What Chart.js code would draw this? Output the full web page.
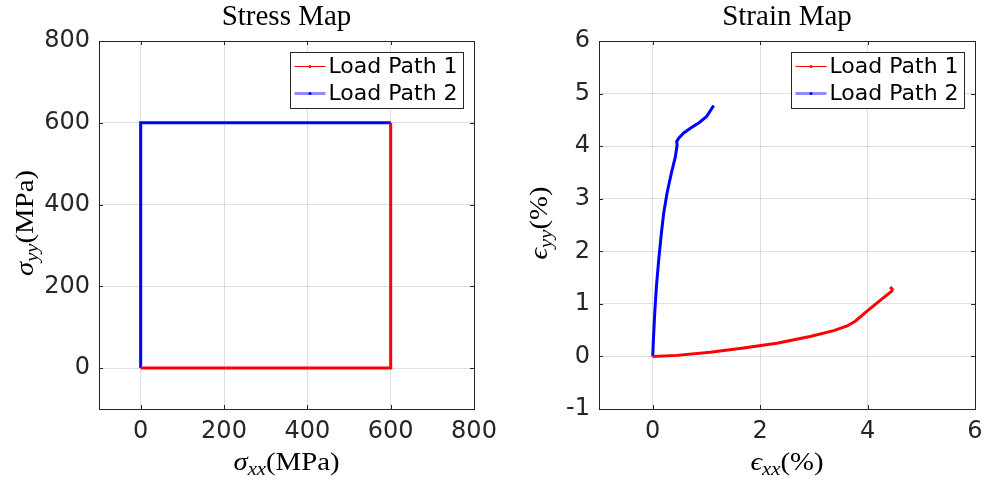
<!DOCTYPE html>
<html>
<head>
<meta charset="utf-8">
<title>Stress / Strain Map</title>
<script src="https://cdn.jsdelivr.net/npm/chart.js@4.4.1/dist/chart.umd.min.js"></script>
<style>
  body { margin: 0; background: #fff; width: 986px; height: 485px; overflow: hidden; position: relative; }
  .panel { position: absolute; top: 0; height: 485px; }
</style>
</head>
<body>
<div class="panel" style="left:493px;width:493px"><canvas id="strainChart" width="493" height="485"></canvas></div>
<div class="panel" style="left:0;width:530px"><canvas id="stressChart" width="530" height="485"></canvas></div>
<script>
// Series names
var seriesLabels = ["Load Path 1", "Load Path 2"];

// Stress paths (MPa)
var stressPath1X = [0, 600, 600];
var stressPath1Y = [0, 0, 600];
var stressPath2X = [0, 0, 600];
var stressPath2Y = [0, 600, 600];

// Strain paths (%)
var strainPath1X = [0, 0.45, 1.07, 1.69, 2.31, 2.93, 3.37, 3.62, 3.77, 3.99, 4.24, 4.45, 4.46, 4.42];
var strainPath1Y = [0, 0.02, 0.08, 0.16, 0.25, 0.38, 0.49, 0.58, 0.67, 0.86, 1.07, 1.24, 1.28, 1.32];
var strainPath2X = [0, 0.013, 0.037, 0.069, 0.112, 0.162, 0.205, 0.267, 0.348, 0.422, 0.454, 0.448, 0.484, 0.577, 0.70, 0.869, 0.999, 1.135];
var strainPath2Y = [0, 0.32, 0.82, 1.33, 1.84, 2.35, 2.73, 3.11, 3.49, 3.80, 4.02, 4.09, 4.15, 4.25, 4.34, 4.45, 4.56, 4.77];

// Tick values
var stressTicks = [0, 200, 400, 600, 800];
var strainXTicks = [0, 2, 4, 6];
var strainYTicks = [-1, 0, 1, 2, 3, 4, 5, 6];

var pathColors = ["#ff0000", "#0000ff"];
var legendLineColors = ["#ff0000", "rgba(0,0,255,0.45)"];
var legendLineWidths = [1, 3];

var axisColor = "#262626";
var gridColor = "rgba(38,38,38,0.15)";
var sansFont = "DejaVu Sans";
var serifFont = '"Liberation Serif", "DejaVu Serif", serif';

function toPoints(xs, ys) {
  return xs.map(function (x, i) {
    return { x: x, y: ys[i] };
  });
}

function fixTicks(values) {
  return function (scale) {
    scale.ticks = values.map(function (v) {
      return { value: v };
    });
  };
}

// keep the plot box at a fixed place regardless of label widths
function fixSize(size) {
  return function (scale) {
    if (scale.isHorizontal()) scale.height = size;
    else scale.width = size;
    scale.paddingLeft = 0;
    scale.paddingRight = 0;
    scale.paddingTop = 0;
    scale.paddingBottom = 0;
  };
}

// text with an italic symbol and a subscript, LaTeX style (slightly widened)
function drawMathText(ctx, parts, cx, baseY, angle) {
  var stretch = 1.15;
  ctx.save();
  ctx.translate(cx, baseY);
  ctx.rotate(angle);
  ctx.scale(stretch, 1);
  var total = 0;
  parts.forEach(function (p) {
    ctx.font = (p.italic ? "italic " : "") + (p.sub ? 18 : 25) + "px " + serifFont;
    p.w = ctx.measureText(p.text).width;
    total += p.w;
  });
  var x = -total / 2;
  ctx.fillStyle = "#000";
  ctx.textAlign = "left";
  ctx.textBaseline = "alphabetic";
  parts.forEach(function (p) {
    ctx.font = (p.italic ? "italic " : "") + (p.sub ? 18 : 25) + "px " + serifFont;
    ctx.fillText(p.text, x, p.sub ? 5 : 0);
    x += p.w;
  });
  ctx.restore();
}

// box, inward ticks, title, axis labels and boxed legend
var matlabAxes = {
  id: "matlabAxes",
  afterDraw: function (chart, args, opts) {
    var ctx = chart.ctx;
    var area = chart.chartArea;
    var xs = chart.scales.x;
    var ys = chart.scales.y;
    ctx.save();

    // inward tick marks on all four sides
    ctx.strokeStyle = axisColor;
    ctx.lineWidth = 1;
    ctx.beginPath();
    xs.ticks.forEach(function (t) {
      var px = Math.round(xs.getPixelForValue(t.value)) + 0.5;
      ctx.moveTo(px, area.bottom);
      ctx.lineTo(px, area.bottom - 4);
      ctx.moveTo(px, area.top);
      ctx.lineTo(px, area.top + 4);
    });
    ys.ticks.forEach(function (t) {
      var py = Math.round(ys.getPixelForValue(t.value)) + 0.5;
      ctx.moveTo(area.left, py);
      ctx.lineTo(area.left + 4, py);
      ctx.moveTo(area.right, py);
      ctx.lineTo(area.right - 4, py);
    });
    ctx.stroke();
    ctx.strokeRect(Math.round(area.left) + 0.5, Math.round(area.top) + 0.5,
      Math.round(area.right - area.left), Math.round(area.bottom - area.top));

    // title
    ctx.fillStyle = "#000";
    ctx.font = "29px " + serifFont;
    ctx.textAlign = "center";
    ctx.textBaseline = "alphabetic";
    ctx.fillText(opts.title, (area.left + area.right) / 2, 25);

    // axis labels
    drawMathText(ctx, opts.xLabel, (area.left + area.right) / 2, 470, 0);
    drawMathText(ctx, opts.yLabel, opts.yLabelX, 223, -Math.PI / 2);

    // legend
    var bw = 173, bh = 56;
    var bx = Math.round(area.right) - 11 - bw + 0.5;
    var by = Math.round(area.top) + 11 + 0.5;
    ctx.fillStyle = "#fff";
    ctx.fillRect(bx, by, bw, bh);
    ctx.strokeStyle = axisColor;
    ctx.lineWidth = 1;
    ctx.strokeRect(bx, by, bw, bh);
    ctx.font = "22px " + sansFont;
    ctx.textAlign = "left";
    ctx.textBaseline = "middle";
    chart.data.datasets.forEach(function (ds, i) {
      var ry = by + 14 + i * 27;
      ctx.strokeStyle = legendLineColors[i];
      ctx.lineWidth = legendLineWidths[i];
      ctx.beginPath();
      ctx.moveTo(bx + 4, ry);
      ctx.lineTo(bx + 35, ry);
      ctx.stroke();
      ctx.fillStyle = pathColors[i];
      ctx.beginPath();
      ctx.arc(bx + 19.5, ry, 1.5, 0, Math.PI * 2);
      ctx.fill();
      ctx.fillStyle = "#000";
      ctx.fillText(ds.label, bx + 38, ry + 1);
    });
    ctx.restore();
  }
};

function axisOptions(min, max, ticks, size, padding) {
  return {
    type: "linear",
    min: min,
    max: max,
    afterBuildTicks: fixTicks(ticks),
    afterFit: fixSize(size),
    border: { display: false },
    grid: { color: gridColor, lineWidth: 1, drawTicks: false },
    ticks: {
      color: axisColor,
      font: { family: sansFont, size: 24 },
      padding: padding,
      maxRotation: 0,
      autoSkip: false
    }
  };
}

function pathDataset(label, points, color) {
  return {
    label: label,
    data: points,
    showLine: true,
    borderColor: color,
    backgroundColor: color,
    borderWidth: 3,
    pointRadius: 0,
    tension: 0,
    fill: false
  };
}

// Stress map
new Chart(document.getElementById("stressChart").getContext("2d"), {
  type: "scatter",
  data: {
    datasets: [
      pathDataset(seriesLabels[0], toPoints(stressPath1X, stressPath1Y), pathColors[0]),
      pathDataset(seriesLabels[1], toPoints(stressPath2X, stressPath2Y), pathColors[1])
    ]
  },
  options: {
    responsive: false,
    animation: false,
    layout: { padding: { top: 41, right: 56, left: 0, bottom: 0 } },
    scales: {
      x: axisOptions(-100, 800, stressTicks, 76, 8),
      y: axisOptions(-100, 800, stressTicks, 99, 9)
    },
    plugins: {
      legend: { display: false },
      tooltip: { enabled: false },
      matlabAxes: {
        title: "Stress Map",
        xLabel: [{ text: "σ", italic: true }, { text: "xx", italic: true, sub: true }, { text: "(MPa)" }],
        yLabel: [{ text: "σ", italic: true }, { text: "yy", italic: true, sub: true }, { text: "(MPa)" }],
        yLabelX: 33
      }
    }
  },
  plugins: [matlabAxes]
});

// Strain map
new Chart(document.getElementById("strainChart").getContext("2d"), {
  type: "scatter",
  data: {
    datasets: [
      pathDataset(seriesLabels[0], toPoints(strainPath1X, strainPath1Y), pathColors[0]),
      pathDataset(seriesLabels[1], toPoints(strainPath2X, strainPath2Y), pathColors[1])
    ]
  },
  options: {
    responsive: false,
    animation: false,
    layout: { padding: { top: 41, right: 11, left: 0, bottom: 0 } },
    scales: {
      x: axisOptions(-1, 6, strainXTicks, 76, 8),
      y: axisOptions(-1, 6, strainYTicks, 106, 9)
    },
    plugins: {
      legend: { display: false },
      tooltip: { enabled: false },
      matlabAxes: {
        title: "Strain Map",
        xLabel: [{ text: "ϵ", italic: true }, { text: "xx", italic: true, sub: true }, { text: "(%)" }],
        yLabel: [{ text: "ϵ", italic: true }, { text: "yy", italic: true, sub: true }, { text: "(%)" }],
        yLabelX: 54
      }
    }
  },
  plugins: [matlabAxes]
});
</script>
</body>
</html>
